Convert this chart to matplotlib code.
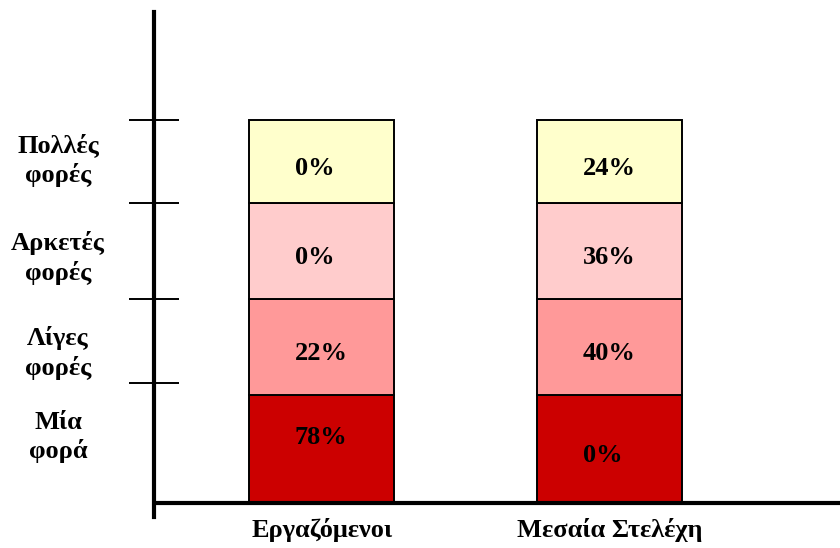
import matplotlib
matplotlib.use("Agg")
import numpy as np
from matplotlib import pyplot as plt
from matplotlib import transforms

plt.rcParams['font.family'] = ['Liberation Serif', 'DejaVu Serif']
plt.rcParams['font.weight'] = 'bold'

groups = ["Εργαζόμενοι", "Μεσαία Στελέχη"]
answers = ["Μία\nφορά", "Λίγες\nφορές", "Αρκετές\nφορές", "Πολλές\nφορές"]
# percentages per answer, bottom to top
employees = [78, 22, 0, 0]
managers = [0, 40, 36, 24]
# the bands are drawn with fixed heights, not scaled by the percentages
band_heights = [1.08, 0.96, 0.96, 0.83]
tick_levels = [1.20, 2.04, 3.00, 3.83]
answer_label_y = [0.66, 1.50, 2.45, 3.43]

colors = ["#CC0000", "#FF9999", "#FFCCCC", "#FFFFCC"]

fig = plt.figure(figsize=(8.4, 5.48), dpi=100)
ax = fig.add_axes([154 / 840, 31 / 548, 686 / 840, 505 / 548])

x = np.arange(len(groups))
width = 0.503
bottom = np.zeros(len(groups))
values = np.array([employees, managers])
for i, h in enumerate(band_heights):
    ax.bar(x, h, width, bottom=bottom, color=colors[i], edgecolor="black", linewidth=1.4)
    for j in range(len(groups)):
        y = bottom[j] + h / 2 - 0.07
        if i == 0 and values[j, i] > 0:
            y += 0.18
        ax.text(x[j] - 0.094, y, "{}%".format(values[j, i]), ha="left", va="center",
                fontsize=19, fontweight="bold")
    bottom = bottom + h

ax.set_xlim(-0.583, 1.799)
ax.set_ylim(-0.14, 4.91)

ax.axhline(0, color="black", linewidth=3)
for s in ["top", "right", "bottom"]:
    ax.spines[s].set_visible(False)
ax.spines["left"].set_linewidth(3)

ax.set_yticks(tick_levels)
ax.set_yticklabels([])
ax.tick_params(axis="y", direction="inout", length=36, width=1.4)

ax.set_xticks(x)
ax.set_xticklabels(groups, fontsize=19, fontweight="bold")
ax.tick_params(axis="x", length=0, pad=1)

trans = transforms.blended_transform_factory(ax.transAxes, ax.transData)
for lab, y in zip(answers, answer_label_y):
    ax.text(-0.14, y, lab, transform=trans, ha="center", va="center",
            fontsize=19, fontweight="bold", linespacing=1.3)

fig.savefig("out.png", dpi=100)
